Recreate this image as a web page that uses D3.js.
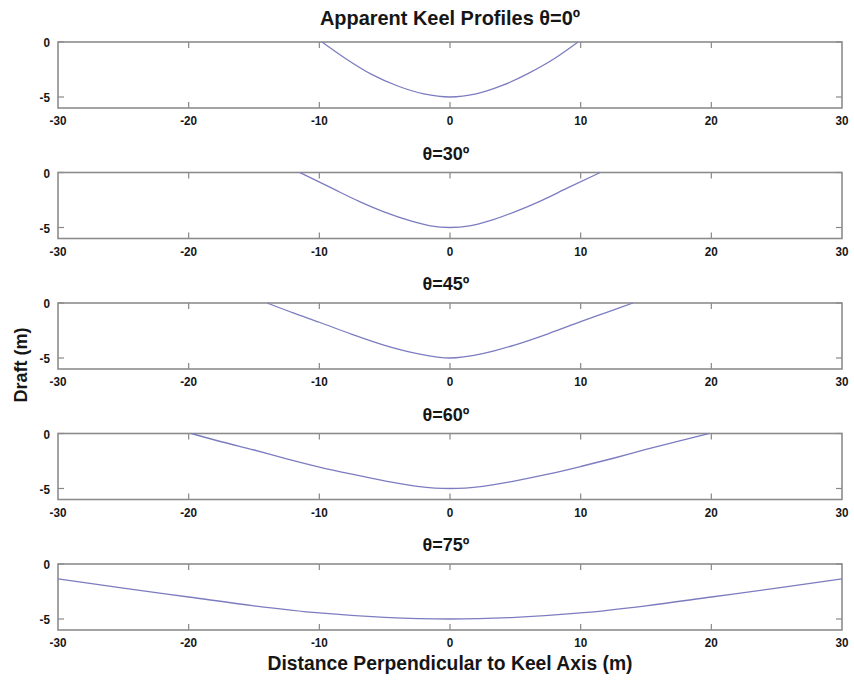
<!DOCTYPE html>
<html>
<head>
<meta charset="utf-8">
<script src="https://cdn.jsdelivr.net/npm/d3@7"></script>
<style>
  body { margin: 0; background: #fff; }
  svg text { font-family: "Liberation Sans", Arial, sans-serif; font-weight: bold; fill: #161616; }
</style>
</head>
<body>
<svg id="chart" width="854" height="687"></svg>
<script>

// panel titles
var titles = ['Apparent Keel Profiles \u03b8=0\u00ba', '\u03b8=30\u00ba', '\u03b8=45\u00ba', '\u03b8=60\u00ba', '\u03b8=75\u00ba'];

// x / draft values
var dist0  = [-9.8, -8, -6, -4, -2, 0, 2, 4, 6, 8, 9.8];
var draft0 = [0, -1.5, -2.95, -4.0, -4.72, -5.0, -4.72, -3.95, -2.85, -1.5, 0];

var dist30  = [-11.5, -9, -7, -5, -3, -1.5, 0, 1.5, 3, 5, 7, 9, 11.5];
var draft30 = [0, -1.45, -2.6, -3.6, -4.4, -4.85, -5.0, -4.85, -4.4, -3.55, -2.55, -1.4, 0];

var dist45  = [-14, -12, -10, -7.5, -5, -2.5, 0, 2.5, 5, 7.5, 10, 12, 14];
var draft45 = [0, -0.9, -1.75, -2.85, -3.85, -4.6, -5.0, -4.6, -3.8, -2.8, -1.7, -0.85, 0];

var dist60  = [-19.8, -17.5, -15, -12.5, -10, -7.5, -5, -2.5, 0, 2.5, 5, 7.5, 10, 12.5, 15, 17.5, 19.8];
var draft60 = [0, -0.75, -1.5, -2.3, -3.05, -3.7, -4.3, -4.8, -5.0, -4.8, -4.3, -3.7, -3.0, -2.25, -1.45, -0.7, 0];

var dist75  = [-30, -25, -20, -15, -10, -5, 0, 5, 10, 15, 20, 25, 30];
var draft75 = [-1.35, -2.2, -3.0, -3.8, -4.45, -4.85, -5.0, -4.85, -4.45, -3.8, -3.0, -2.2, -1.35];

var profiles = [[dist0, draft0], [dist30, draft30], [dist45, draft45], [dist60, draft60], [dist75, draft75]];

var xTicks = [-30, -20, -10, 0, 10, 20, 30];
var yTicks = [0, -5];

var svg = d3.select('#chart'),
    left = 58,
    right = 842,
    firstTop = 42,
    step = 130.5,
    panelH = 66;

var x = d3.scaleLinear()
      .domain([-30, 30])
      .range([left, right]);

var y = d3.scaleLinear()
      .domain([-6, 0])
      .range([panelH, 0]);

var line = d3.line()
      .x(function(d) { return x(d[0]); })
      .y(function(d) { return y(d[1]); })
      .curve(d3.curveMonotoneX);

// narrow-looking text: squeeze horizontally
function label(sel, tx, ty, size, squeeze, anchor, txt) {
  return sel.append('text')
      .attr('transform', 'translate(' + tx + ',' + ty + ') scale(' + squeeze + ',1)')
      .attr('text-anchor', anchor)
      .style('font-size', size + 'px')
      .text(txt);
}

for (var p = 0; p < profiles.length; p++) {
  var g = svg.append('g')
      .attr('transform', 'translate(0,' + (firstTop + p * step) + ')');

  // panel title
  if (p === 0) label(g, 450, -17, 21, 0.95, 'middle', titles[p]);
  else label(g, 446, -13, 19, 0.95, 'middle', titles[p]);

  // bottom tick labels
  xTicks.forEach(function(d) {
    label(g, x(d), panelH + 17, 13, 0.9, 'middle', d);
  });

  // left tick labels
  yTicks.forEach(function(d) {
    label(g, left - 8, y(d) + 5, 13, 0.9, 'end', d);
  });

  // inward ticks, top/bottom and left/right
  var inner = xTicks.slice(1, -1);
  g.selectAll('.xtb')
      .data(inner)
    .enter().append('line')
      .attr('x1', function(d) { return x(d); })
      .attr('x2', function(d) { return x(d); })
      .attr('y1', panelH)
      .attr('y2', panelH - 6)
      .attr('stroke', '#888')
      .attr('stroke-width', 1.2);
  g.selectAll('.xtt')
      .data(inner)
    .enter().append('line')
      .attr('x1', function(d) { return x(d); })
      .attr('x2', function(d) { return x(d); })
      .attr('y1', 0)
      .attr('y2', 6)
      .attr('stroke', '#888')
      .attr('stroke-width', 1.2);
  g.selectAll('.ytl')
      .data(yTicks)
    .enter().append('line')
      .attr('x1', left)
      .attr('x2', left + 6)
      .attr('y1', function(d) { return y(d); })
      .attr('y2', function(d) { return y(d); })
      .attr('stroke', '#888')
      .attr('stroke-width', 1.2);
  g.selectAll('.ytr')
      .data(yTicks)
    .enter().append('line')
      .attr('x1', right)
      .attr('x2', right - 6)
      .attr('y1', function(d) { return y(d); })
      .attr('y2', function(d) { return y(d); })
      .attr('stroke', '#888')
      .attr('stroke-width', 1.2);

  // frame
  g.append('rect')
      .attr('x', left)
      .attr('y', 0)
      .attr('width', right - left)
      .attr('height', panelH)
      .attr('fill', 'none')
      .attr('stroke', '#8c8c8c')
      .attr('stroke-width', 1.6);

  var pts = d3.zip(profiles[p][0], profiles[p][1]);
  g.append('path')
      .attr('d', line(pts))
      .attr('fill', 'none')
      .attr('stroke', '#7c7cc0')
      .attr('stroke-width', 1.3);
}

label(svg, 450, 670, 21, 0.92, 'middle', 'Distance Perpendicular to Keel Axis (m)');

svg.append('text')
    .attr('transform', 'translate(27,365) rotate(-90)')
    .attr('text-anchor', 'middle')
    .style('font-size', '18px')
    .text('Draft (m)');

</script>
</body>
</html>
